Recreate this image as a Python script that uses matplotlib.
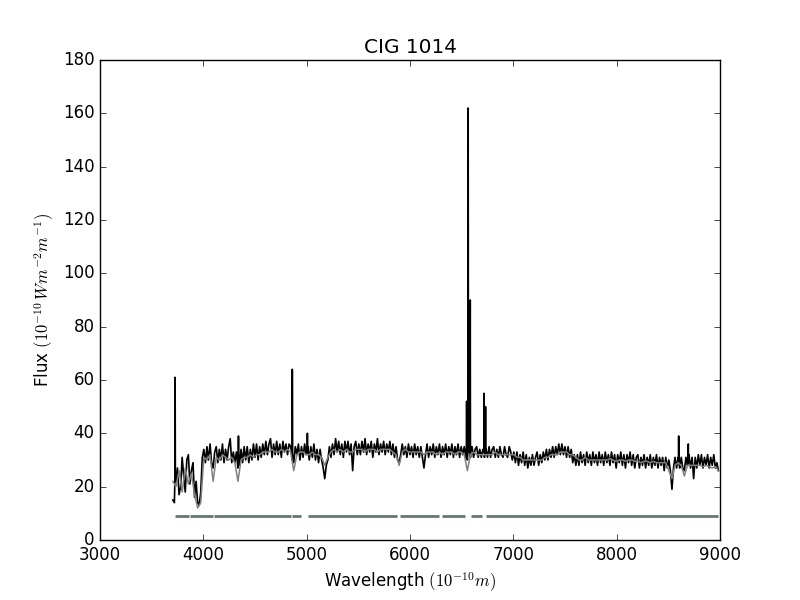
import numpy as np
import matplotlib
matplotlib.use("Agg")
import matplotlib.pyplot as plt

plt.style.use("classic")

# observed spectrum (black), sampled every 15 A from 3705 A
obs_wave = np.arange(3705, 8990, 15)
obs_flux = [
    15, 14, 22, 27, 17, 20, 31, 24, 18, 30, 32, 21, 26, 29, 16, 22, 14, 13, 18, 31,
    34, 29, 35, 30, 36, 29, 27, 33, 35, 29, 34, 30, 36, 29, 34, 30, 35, 38, 29, 33,
    29, 33, 27, 28, 34, 29, 35, 30, 35, 29, 34, 30, 36, 31, 36, 30, 35, 31, 36, 32,
    37, 32, 36, 38, 31, 36, 32, 37, 32, 36, 31, 37, 33, 36, 32, 36, 35, 30, 29, 35,
    32, 36, 30, 35, 31, 36, 32, 35, 30, 35, 31, 36, 30, 34, 29, 34, 30, 27, 23, 28,
    30, 35, 31, 36, 32, 38, 33, 37, 32, 36, 31, 37, 33, 37, 32, 36, 26, 35, 37, 32,
    36, 32, 37, 33, 38, 32, 36, 33, 37, 31, 36, 33, 38, 32, 36, 33, 37, 32, 36, 33,
    37, 32, 36, 31, 35, 30, 29, 32, 36, 32, 35, 31, 36, 32, 35, 31, 36, 32, 35, 31,
    35, 31, 27, 32, 36, 31, 35, 32, 36, 31, 35, 32, 36, 31, 35, 32, 36, 31, 35, 32,
    36, 31, 35, 32, 36, 31, 35, 32, 35, 31, 30, 34, 31, 35, 31, 34, 35, 31, 34, 31,
    34, 31, 34, 31, 35, 31, 34, 35, 31, 34, 31, 35, 32, 31, 35, 32, 31, 35, 33, 30,
    33, 29, 33, 28, 32, 29, 33, 28, 32, 27, 31, 28, 32, 28, 31, 33, 28, 32, 29, 33,
    30, 34, 30, 34, 31, 35, 31, 35, 32, 36, 32, 36, 32, 35, 31, 35, 31, 34, 29, 32,
    28, 32, 28, 33, 29, 32, 28, 33, 29, 32, 28, 33, 29, 32, 28, 33, 29, 32, 28, 33,
    29, 32, 28, 33, 29, 32, 27, 32, 29, 33, 28, 32, 27, 32, 29, 33, 28, 32, 27, 31,
    32, 27, 31, 28, 32, 27, 31, 28, 32, 27, 31, 28, 32, 27, 31, 28, 31, 26, 31, 27,
    30, 26, 19, 27, 31, 27, 31, 27, 31, 27, 26, 31, 28, 32, 27, 31, 23, 31, 27, 32,
    28, 32, 27, 31, 28, 32, 27, 31, 28, 32, 27, 29, 26,
]

# stellar model fit (grey), sampled every 30 A from 3705 A
model_wave = np.arange(3705, 8990, 30)
model_flux = [
    22, 20, 26, 18, 27, 21, 25, 17, 12, 14,
    31, 30, 32, 22, 31, 30, 32, 31, 30, 31,
    29, 22, 30, 31, 31, 32, 31, 32, 32, 33,
    33, 33, 34, 33, 33, 34, 33, 34, 33, 26,
    32, 33, 33, 32, 32, 33, 32, 32, 31, 28,
    31, 33, 34, 33, 34, 33, 34, 33, 33, 34,
    34, 34, 33, 34, 34, 34, 33, 34, 34, 34,
    34, 33, 32, 28, 33, 34, 33, 33, 33, 33,
    33, 32, 33, 33, 33, 32, 33, 32, 33, 33,
    33, 32, 33, 33, 32, 26, 32, 33, 32, 32,
    32, 32, 32, 32, 33, 32, 32, 32, 32, 32,
    32, 31, 31, 30, 30, 30, 30, 30, 30, 30,
    31, 31, 32, 32, 32, 33, 33, 33, 32, 32,
    31, 30, 30, 31, 30, 30, 30, 30, 30, 30,
    30, 30.5, 30, 29.5, 30, 30, 29.5, 30, 30, 29.5,
    29.5, 29, 29.5, 29.5, 29, 29.5, 29, 29, 29, 29,
    26, 23, 28, 29, 28, 24, 28, 28, 28, 28,
    28, 27.5, 28, 27.5, 27, 27.5, 26,
]

# narrow emission lines / spikes in the observed spectrum
line_center = [3727, 4340, 4861, 5007, 6548, 6563, 6583, 6717, 6731, 8600, 8693]
line_peak = [61, 39, 64, 40, 52, 162, 90, 55, 50, 39, 36]
line_base = [22, 29, 32, 33, 33, 33, 33, 33, 33, 29, 29]

# masked-out regions (good pixels drawn at the bottom)
mask_start = [3726, 3871, 4103, 4861, 5009, 5903, 6306, 6590, 6735]
mask_end = [3861, 4090, 4848, 4942, 5870, 6284, 6532, 6700, 8977]
mask_level = 9

# merge lines into the observed spectrum
w = list(obs_wave)
f = list(obs_flux)
for c, p, b in zip(line_center, line_peak, line_base):
    w += [c - 2.5, c, c + 2.5]
    f += [b, p, b]
order = np.argsort(w, kind="stable")
w = np.array(w)[order]
f = np.array(f)[order]

fig = plt.figure(figsize=(8, 6), dpi=100)
ax = fig.add_subplot(111)
ax.plot(w, f, color="black", lw=1.2)
ax.plot(model_wave, model_flux, color="#808080", lw=1.1)
ax.hlines([mask_level] * len(mask_start), mask_start, mask_end,
          color="#657575", lw=2)

ax.set_xlim(3000, 9000)
ax.set_ylim(0, 180)
ax.set_title("CIG 1014")
ax.set_xlabel(r"Wavelength $(10^{-10}m)$")
ax.set_ylabel(r"Flux $(10^{-10}\, Wm^{-2}m^{-1})$")

fig.savefig("out.png", dpi=100, facecolor="white")
